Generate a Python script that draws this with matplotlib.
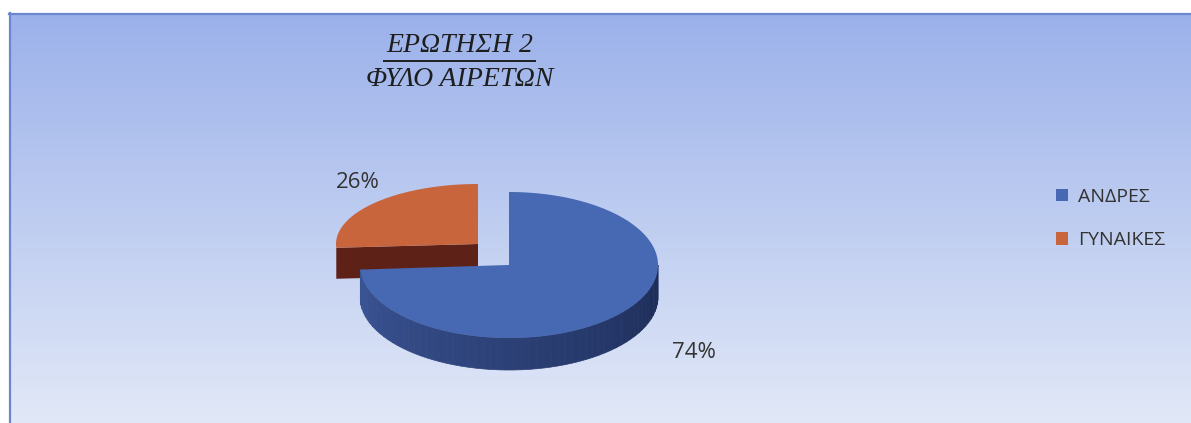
import numpy as np
import matplotlib
matplotlib.use("Agg")
import matplotlib.pyplot as plt
from matplotlib.patches import Polygon, Patch
from matplotlib.colors import to_rgb

# data
labels = ['ΑΝΔΡΕΣ', 'ΓΥΝΑΙΚΕΣ']
shares = [74, 26]
pct_labels = ['74%', '26%']
title1 = 'ΕΡΩΤΗΣΗ 2'
title2 = 'ΦΥΛΟ ΑΙΡΕΤΩΝ'

top_cols = ['#4768b2', '#c9653d']
side_cols = [('#3a5494', '#1d2c57'), ('#5e2118', '#5e2118')]

W, H = 1191, 423
fig = plt.figure(figsize=(W / 100, H / 100), dpi=100)
fig.patch.set_facecolor('white')

ax = fig.add_axes([0, 0, 1, 1])
ax.set_xlim(0, W)
ax.set_ylim(H, 0)
ax.axis('off')

# background gradient of the chart area
grad = np.linspace(0, 1, 256)[:, None]
c0 = np.array(to_rgb('#9bb1ea'))
c1 = np.array(to_rgb('#e1e8f7'))
img = c0[None, None, :] * (1 - grad[..., None]) + c1[None, None, :] * grad[..., None]
img = np.repeat(img, 2, axis=1)
ax.imshow(img, extent=(9, W, H, 13), aspect='auto', zorder=0)
ax.plot([9, W], [14, 14], color='#6b86cf', lw=1.6, zorder=1)
ax.plot([10, 10], [13, H], color='#6b86cf', lw=1.6, zorder=1)


def rim(cx, cy, a, b, t0, t1, n=200):
    t = np.radians(np.linspace(t0, t1, n))
    return np.column_stack([cx + a * np.cos(t), cy - b * np.sin(t)])


def mix(c0, c1, f):
    return tuple(np.array(to_rgb(c0)) * (1 - f) + np.array(to_rgb(c1)) * f)


# slice angles (start at 12 o'clock, first slice clockwise)
span = [360 * s / sum(shares) for s in shares]
blue_t0, blue_t1 = 90 - span[0], 90
or_t0, or_t1 = 90, 90 + span[1]

# exploded orange slice (sits further back)
ocx, ocy, oa, ob, od = 478, 244, 142, 60, 31
vx, vy = ocx, ocy
p_top = rim(ocx, ocy, oa, ob, or_t1, or_t1, 2)[0]
face = np.array([[vx, vy], p_top, [p_top[0], p_top[1] + od], [vx, vy + od]])
ax.add_patch(Polygon(face, closed=True, fc=side_cols[1][0], ec='none', zorder=2))
otop = np.vstack([[vx, vy], rim(ocx, ocy, oa, ob, or_t0, or_t1)])
ax.add_patch(Polygon(otop, closed=True, fc=top_cols[1], ec='none', zorder=3))

# blue slice
cx, cy, a, b, d = 509, 265, 149, 73, 32
s0 = blue_t0 + 360
nseg = 60
edges = np.linspace(max(s0, 180), 360, nseg + 1)
for i in range(nseg):
    top = rim(cx, cy, a, b, edges[i], edges[i + 1], 10)
    bot = top + np.array([0, d])
    poly = np.vstack([top, bot[::-1]])
    f = i / (nseg - 1)
    ax.add_patch(Polygon(poly, closed=True, fc=mix(side_cols[0][0], side_cols[0][1], f),
                         ec=mix(side_cols[0][0], side_cols[0][1], f), lw=0.5, zorder=4))
btop = np.vstack([[cx, cy], rim(cx, cy, a, b, blue_t0, blue_t1, 400)])
ax.add_patch(Polygon(btop, closed=True, fc=top_cols[0], ec='none', zorder=5))

# percentage labels
lab_font = dict(family=['Open Sans', 'DejaVu Sans'], fontsize=16, color='#333333')
ax.text(694, 352, pct_labels[0], ha='center', va='center', zorder=6, **lab_font)
ax.text(358, 183, pct_labels[1], ha='center', va='center', zorder=6, **lab_font)

# title
tfont = dict(family=['Liberation Serif', 'DejaVu Serif'], style='italic', fontsize=20,
             color='#1e1e1e', ha='center', va='center', zorder=6)
ax.text(460, 46, title1, **tfont)
ax.plot([384, 535], [61, 61], color='#1e1e1e', lw=1.4, zorder=6)
ax.text(460, 80, title2, **tfont)

# legend
handles = [Patch(facecolor=c, edgecolor='none') for c in top_cols]
leg = ax.legend(handles, labels, loc='upper left', bbox_to_anchor=(1050 / W, 1 - 182 / H),
                frameon=False, handlelength=0.65, handleheight=0.65, handletextpad=0.5,
                labelspacing=1.3, borderaxespad=0, borderpad=0.3,
                prop={'family': ['Open Sans', 'DejaVu Sans'], 'size': 14})
for t in leg.get_texts():
    t.set_color('#333333')

fig.savefig('out.png', dpi=100, facecolor='white')
